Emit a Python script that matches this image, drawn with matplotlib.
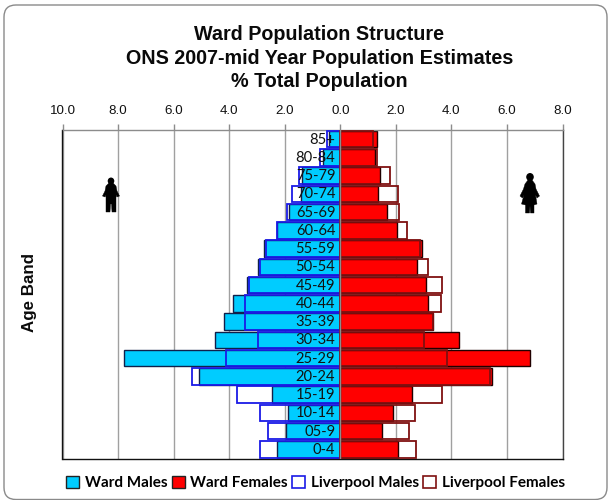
import matplotlib
matplotlib.use("Agg")
import matplotlib.pyplot as plt
from matplotlib.patches import FancyBboxPatch, Patch, Polygon, Ellipse
from matplotlib.transforms import Affine2D

age_bands = ["0-4", "05-9", "10-14", "15-19", "20-24", "25-29", "30-34", "35-39", "40-44",
             "45-49", "50-54", "55-59", "60-64", "65-69", "70-74", "75-79", "80-84", "85+"]
ward_males = [2.29, 1.94, 1.90, 2.47, 5.07, 7.78, 4.51, 4.18, 3.86,
              3.37, 2.97, 2.74, 2.27, 1.84, 1.43, 1.39, 0.61, 0.40]
ward_females = [2.09, 1.51, 1.88, 2.59, 5.45, 6.83, 4.27, 3.33, 3.15,
                3.07, 2.75, 2.94, 2.03, 1.67, 1.34, 1.43, 1.25, 1.31]
lpool_males = [2.88, 2.62, 2.88, 3.71, 5.35, 4.11, 2.98, 3.42, 3.42,
               3.28, 2.88, 2.69, 2.27, 1.93, 1.75, 1.50, 0.73, 0.49]
lpool_females = [2.73, 2.49, 2.69, 3.66, 5.40, 3.83, 3.00, 3.33, 3.61,
                 3.67, 3.15, 2.87, 2.40, 2.12, 2.06, 1.79, 1.33, 1.16]
x_ticks = [-10, -8, -6, -4, -2, 0, 2, 4, 6, 8]
title_text = "Ward Population Structure\nONS 2007-mid Year Population Estimates\n% Total Population"

W, H = 608, 500
SANS = ["Liberation Sans", "DejaVu Sans"]
CAL = ["Lato", "DejaVu Sans"]
fig = plt.figure(figsize=(W / 100, H / 100), dpi=100, facecolor="white")

frame_px = FancyBboxPatch((4.0, 0.5), 603, 494.5, boxstyle="round,pad=0,rounding_size=12",
                          transform=Affine2D(), fc="white", ec="#8a8a8a", lw=1.0, zorder=-4)
fig.add_artist(frame_px)

ax = fig.add_axes([62.5 / W, 1 - 458.5 / H, 500 / W, 328.5 / H])
ax.set_xlim(-10, 8)
ax.set_ylim(-0.5, 17.5)
ax.set_axisbelow(True)
ax.xaxis.grid(True, color="#a0a0a0", lw=1.0)
ax.yaxis.grid(False)

ys = range(len(age_bands))
h = 0.90
ax.barh(ys, [-v for v in ward_males], height=h, color="#00ccff", edgecolor="#10204a", lw=1.0, zorder=2)
ax.barh(ys, ward_females, height=h, color="#ff0000", edgecolor="#200000", lw=1.0, zorder=2)
ax.barh(ys, [-v for v in lpool_males], height=h, color="none", edgecolor="#1a1ae6", lw=1.3, zorder=3)
ax.barh(ys, lpool_females, height=h, color="none", edgecolor="#7f1010", lw=1.3, zorder=3)
ax.axvline(0, color="#8c8c8c", lw=1.0, zorder=4)

for y, lab in zip(ys, age_bands):
    ax.annotate(lab, xy=(0, y), xytext=(-5, -0.5), textcoords="offset pixels", ha="right", va="center",
                fontsize=10.6, family=CAL, color="#111111", zorder=5)

ax.xaxis.tick_top()
ax.set_xticks(x_ticks)
ax.set_xticklabels([f"{abs(t):.1f}" for t in x_ticks], fontsize=9.6, family=SANS, color="#111111")
ax.tick_params(axis="x", length=4, width=1, color="#8c8c8c", pad=5.5)
ax.set_yticks([])
ax.spines["top"].set_color("#8c8c8c")
ax.spines["left"].set_color("#111111")
ax.spines["bottom"].set_color("#111111")
ax.spines["right"].set_color("#444444")
for s in ax.spines.values():
    s.set_linewidth(1.0)

fig.text(319.5 / W, 1 - 58 / H, title_text, ha="center", va="center", fontsize=14.2, fontweight="bold",
         family=SANS, linespacing=1.27, color="#0a0a0a")
fig.text(29.5 / W, 1 - 293 / H, "Age Band", rotation=90, ha="center", va="center", fontsize=12.2,
         fontweight="bold", family=SANS, color="#0a0a0a")

handles = [Patch(fc="#00ccff", ec="#222222", lw=1), Patch(fc="#ff0000", ec="#222222", lw=1),
           Patch(fc="white", ec="#1a1ae6", lw=1.2), Patch(fc="white", ec="#7f1010", lw=1.2)]
labels = ["Ward Males", "Ward Females", "Liverpool Males", "Liverpool Females"]
fig.legend(handles, labels, loc="center", bbox_to_anchor=(315.5 / W, 1 - 483 / H), ncols=4, frameon=False,
           prop={"family": CAL, "weight": "bold", "size": 11.0}, handlelength=0.85, handleheight=0.85,
           handletextpad=0.35, columnspacing=0.3, borderpad=0, borderaxespad=0)


def icon(poly, head, head_r):
    pts = [(x, H - y) for x, y in poly]
    fig.add_artist(Polygon(pts, closed=True, fc="black", ec="black", lw=0.3, transform=Affine2D()))
    fig.add_artist(Ellipse((head[0], H - head[1]), head_r * 2, head_r * 2.1, fc="black", ec="none",
                           transform=Affine2D()))


icon([(109, 183), (113, 183), (116, 186), (117, 191), (119.5, 196), (117, 197), (116, 195), (116, 212),
      (112, 212), (111.5, 204), (110.5, 204), (110, 212), (106, 212), (106, 195), (105, 197), (102.5, 196),
      (105, 191), (106, 186)],
     (111, 181), 3.3)
icon([(528, 180), (532, 180), (535, 184), (536, 189), (539.5, 196), (537, 198), (535.5, 195), (537, 204),
      (534, 205), (534, 213), (530.5, 213), (530, 206), (529.5, 213), (525.5, 213), (525.5, 205), (521.5, 204),
      (524, 195), (522.5, 198), (520, 196), (523.5, 189), (525, 184)], (530, 177), 3.8)

fig.savefig("out.png", dpi=100, facecolor="white")
